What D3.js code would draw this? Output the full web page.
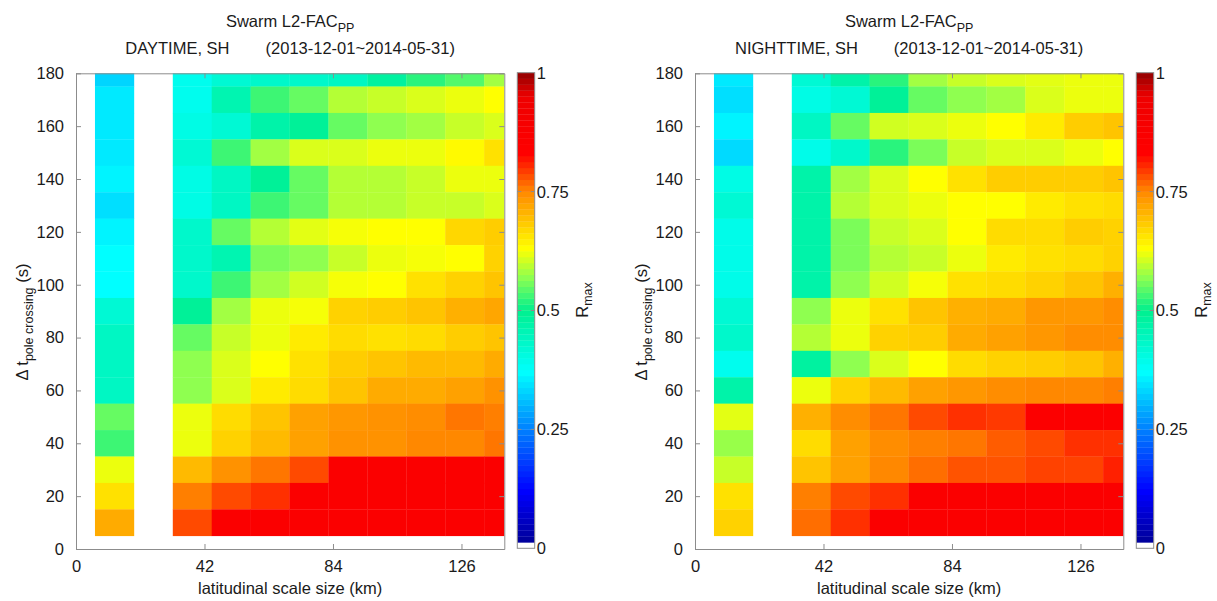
<!DOCTYPE html>
<html>
<head>
<meta charset="utf-8">
<script src="https://cdn.jsdelivr.net/npm/d3@7/dist/d3.min.js"></script>
<style>
  body { margin: 0; background: #fff; }
  text { font-family: "Liberation Sans", Arial, Helvetica, sans-serif; fill: #1a1a1a; }
</style>
</head>
<body>
<script>
'use strict';

// latitudinal scale size (km), bin centres
const scaleSizes = [12.56, 25.28, 38.0, 50.72, 63.44, 76.16, 88.88, 101.6, 114.32, 127.04, 139.76];
const binWidth = 12.72;
// pole crossing time difference (s), row centres, top to bottom
const poleTimes = [180, 170, 160, 150, 140, 130, 120, 110, 100, 90, 80, 70, 60, 50, 40, 30, 20, 10];
const rowHeight = 10;

// R_max, DAYTIME SH (rows follow poleTimes, null = no data)
const dayR = [
  [0.33, null, 0.39, 0.42, 0.43, 0.43, 0.44, 0.48, 0.52, 0.54, 0.58],
  [0.35, null, 0.39, 0.46, 0.53, 0.55, 0.59, 0.60, 0.61, 0.62, 0.63],
  [0.35, null, 0.40, 0.42, 0.47, 0.49, 0.55, 0.57, 0.58, 0.60, 0.61],
  [0.35, null, 0.42, 0.53, 0.58, 0.61, 0.61, 0.62, 0.62, 0.635, 0.66],
  [0.36, null, 0.40, 0.44, 0.49, 0.55, 0.59, 0.59, 0.60, 0.62, 0.62],
  [0.34, null, 0.40, 0.44, 0.53, 0.55, 0.59, 0.59, 0.60, 0.60, 0.61],
  [0.36, null, 0.43, 0.55, 0.59, 0.615, 0.625, 0.63, 0.63, 0.67, 0.68],
  [0.37, null, 0.43, 0.46, 0.56, 0.57, 0.60, 0.62, 0.625, 0.63, 0.675],
  [0.37, null, 0.43, 0.53, 0.58, 0.605, 0.625, 0.63, 0.66, 0.675, 0.69],
  [0.42, null, 0.49, 0.58, 0.62, 0.625, 0.675, 0.68, 0.69, 0.71, 0.72],
  [0.44, null, 0.55, 0.60, 0.62, 0.65, 0.665, 0.66, 0.665, 0.68, 0.69],
  [0.44, null, 0.57, 0.61, 0.63, 0.66, 0.68, 0.69, 0.70, 0.70, 0.715],
  [0.44, null, 0.57, 0.61, 0.65, 0.665, 0.69, 0.715, 0.715, 0.725, 0.74],
  [0.55, null, 0.62, 0.665, 0.69, 0.725, 0.735, 0.74, 0.745, 0.76, 0.755],
  [0.53, null, 0.62, 0.675, 0.70, 0.725, 0.74, 0.74, 0.75, 0.75, 0.76],
  [0.62, null, 0.70, 0.74, 0.76, 0.785, 0.86, 0.86, 0.86, 0.86, 0.86],
  [0.66, null, 0.755, 0.785, 0.80, 0.86, 0.86, 0.86, 0.86, 0.86, 0.86],
  [0.715, null, 0.785, 0.86, 0.86, 0.86, 0.86, 0.86, 0.86, 0.86, 0.86]
];

// R_max, NIGHTTIME SH
const nightR = [
  [0.35, null, 0.42, 0.47, 0.52, 0.58, 0.60, 0.61, 0.615, 0.62, 0.62],
  [0.34, null, 0.40, 0.42, 0.49, 0.55, 0.57, 0.58, 0.61, 0.62, 0.62],
  [0.36, null, 0.44, 0.55, 0.605, 0.61, 0.62, 0.63, 0.65, 0.68, 0.69],
  [0.335, null, 0.395, 0.43, 0.52, 0.56, 0.60, 0.61, 0.61, 0.62, 0.63],
  [0.40, null, 0.47, 0.58, 0.61, 0.63, 0.66, 0.68, 0.68, 0.68, 0.69],
  [0.42, null, 0.47, 0.59, 0.61, 0.62, 0.63, 0.63, 0.65, 0.66, 0.665],
  [0.395, null, 0.47, 0.56, 0.60, 0.61, 0.63, 0.665, 0.665, 0.68, 0.675],
  [0.395, null, 0.47, 0.56, 0.59, 0.60, 0.62, 0.65, 0.66, 0.665, 0.675],
  [0.395, null, 0.47, 0.57, 0.605, 0.625, 0.66, 0.665, 0.675, 0.69, 0.71],
  [0.42, null, 0.57, 0.62, 0.66, 0.69, 0.71, 0.715, 0.735, 0.735, 0.745],
  [0.43, null, 0.59, 0.62, 0.675, 0.68, 0.715, 0.725, 0.735, 0.745, 0.745],
  [0.39, null, 0.48, 0.57, 0.61, 0.63, 0.665, 0.675, 0.68, 0.69, 0.71],
  [0.47, null, 0.62, 0.675, 0.70, 0.725, 0.735, 0.745, 0.75, 0.75, 0.755],
  [0.615, null, 0.71, 0.745, 0.76, 0.785, 0.80, 0.795, 0.85, 0.85, 0.85],
  [0.575, null, 0.665, 0.725, 0.745, 0.755, 0.76, 0.775, 0.785, 0.80, 0.80],
  [0.60, null, 0.69, 0.725, 0.75, 0.765, 0.78, 0.78, 0.79, 0.79, 0.81],
  [0.66, null, 0.755, 0.785, 0.80, 0.86, 0.86, 0.86, 0.86, 0.86, 0.86],
  [0.675, null, 0.765, 0.80, 0.86, 0.86, 0.86, 0.86, 0.86, 0.86, 0.86]
];

const xTickVals = [0, 42, 84, 126];
const yTickVals = [0, 20, 40, 60, 80, 100, 120, 140, 160, 180];
const cbTickVals = [0, 0.25, 0.5, 0.75, 1];
const cbTickLabels = ["0", "0.25", "0.5", "0.75", "1"];

// jet-like colour map
const cmapStops = [0, 0.12, 0.25, 0.37, 0.5, 0.57, 0.63, 0.75, 0.8, 0.83, 0.95, 1];
const cmapColors = ["#00008c", "#0000ff", "#0080ff", "#00ffff", "#00f08f", "#8fff50", "#ffff00",
                    "#ff8800", "#ff3000", "#ff0000", "#ee0000", "#900000"];
const color = d3.scaleLinear().domain(cmapStops).range(cmapColors).interpolate(d3.interpolateRgb).clamp(true);

const svg = d3.select("body").append("svg")
  .attr("width", 1217).attr("height", 601);

const plotW = 428.3, plotTop = 73.3, plotBottom = 549;
const axisGray = "#8c8c8c";

function drawPanel(ox, mode, values, id) {
  const x = d3.scaleLinear().domain([0, 140]).range([ox, ox + plotW]);
  const y = d3.scaleLinear().domain([0, 180]).range([plotBottom, plotTop]);

  svg.append("clipPath").attr("id", "clip" + id)
    .append("rect").attr("x", ox).attr("y", plotTop).attr("width", plotW).attr("height", plotBottom - plotTop);

  const cells = [];
  values.forEach((row, i) => row.forEach((v, j) => {
    if (v !== null) cells.push({ t: poleTimes[i], s: scaleSizes[j], v: v });
  }));

  svg.append("g").attr("clip-path", "url(#clip" + id + ")")
    .selectAll("rect").data(cells).enter().append("rect")
    .attr("x", d => x(d.s - binWidth / 2))
    .attr("width", d => x(d.s + binWidth / 2) - x(d.s - binWidth / 2) + 0.3)
    .attr("y", d => y(d.t + rowHeight / 2))
    .attr("height", d => y(d.t - rowHeight / 2) - y(d.t + rowHeight / 2) + 0.3)
    .attr("fill", d => color(d.v));

  // axes, ticks inside on all four sides
  const ax = [
    d3.axisBottom(x).tickValues(xTickVals).tickSizeInner(-5).tickSizeOuter(0).tickPadding(11),
    d3.axisTop(x).tickValues(xTickVals).tickSizeInner(-5).tickSizeOuter(0).tickFormat(""),
    d3.axisLeft(y).tickValues(yTickVals).tickSizeInner(-5).tickSizeOuter(0).tickPadding(12),
    d3.axisRight(y).tickValues(yTickVals).tickSizeInner(-5).tickSizeOuter(0).tickFormat("")
  ];
  const pos = ["translate(0," + plotBottom + ")", "translate(0," + plotTop + ")",
               "translate(" + ox + ",0)", "translate(" + (ox + plotW) + ",0)"];
  ax.forEach((a, k) => {
    const g = svg.append("g").attr("transform", pos[k]).call(a);
    g.selectAll("path, line").attr("stroke", axisGray);
    g.selectAll("text").attr("font-size", 16.5).attr("fill", "#1a1a1a")
      .style("font-family", '"Liberation Sans", Arial, sans-serif');
  });

  // labels
  const cx = ox + plotW / 2;
  svg.append("text").attr("x", cx).attr("y", 594).attr("text-anchor", "middle")
    .attr("font-size", 16.5).text("latitudinal scale size (km)");

  const t1 = svg.append("text").attr("x", cx).attr("y", 27).attr("text-anchor", "middle").attr("font-size", 16.5);
  t1.append("tspan").text("Swarm L2-FAC");
  t1.append("tspan").attr("dy", 5).attr("font-size", 12.5).text("PP");

  const t2 = svg.append("text").attr("x", cx).attr("y", 54).attr("text-anchor", "middle").attr("font-size", 16.5);
  t2.append("tspan").text(mode);
  t2.append("tspan").attr("dx", 36).text("(2013-12-01~2014-05-31)");

  const yl = svg.append("text").attr("transform", "translate(" + (ox - 48) + ",322) rotate(-90)")
    .attr("text-anchor", "middle").attr("font-size", 16.5);
  yl.append("tspan").text("\u0394 t");
  yl.append("tspan").attr("dy", 5).attr("font-size", 12.5).text("pole crossing");
  yl.append("tspan").attr("dy", -5).text(" (s)");

  // colour bar
  const cbx = ox + 441.3, cbw = 17.4;
  const c = d3.scaleLinear().domain([0, 1]).range([plotBottom - 0.7, plotTop - 0.6]);
  const nLev = 80;
  const levels = d3.range(nLev).map(k => k / nLev);
  svg.append("g").selectAll("rect").data(levels).enter().append("rect")
    .attr("x", cbx).attr("width", cbw)
    .attr("y", d => c(d + 1 / nLev))
    .attr("height", d => c(d) - c(d + 1 / nLev) + 0.3)
    .attr("fill", d => d === 0 ? "#ffffff" : color(d + 0.5 / nLev));
  svg.append("rect").attr("x", cbx).attr("y", c(1)).attr("width", cbw).attr("height", c(0) - c(1))
    .attr("fill", "none").attr("stroke", axisGray);
  const cbTicks = cbTickVals.filter(v => v > 0 && v < 1);
  svg.append("g").selectAll("line").data(cbTicks).enter().append("line")
    .attr("x1", cbx).attr("x2", cbx + 4).attr("y1", d => c(d)).attr("y2", d => c(d))
    .attr("stroke", axisGray);
  svg.append("g").selectAll("line").data(cbTicks).enter().append("line")
    .attr("x1", cbx + cbw - 4).attr("x2", cbx + cbw).attr("y1", d => c(d)).attr("y2", d => c(d))
    .attr("stroke", axisGray);
  svg.append("g").selectAll("text").data(cbTickVals).enter().append("text")
    .attr("x", cbx + cbw + 2).attr("y", d => c(d)).attr("dy", "0.36em")
    .attr("font-size", 16.5).text((d, k) => cbTickLabels[k]);

  const rl = svg.append("text").attr("transform", "translate(" + (cbx + 71) + ",300) rotate(-90)")
    .attr("text-anchor", "middle").attr("font-size", 16.5);
  rl.append("tspan").text("R");
  rl.append("tspan").attr("dy", 4).attr("font-size", 12.5).text("max");
}

drawPanel(76, "DAYTIME, SH", dayR, 0);
drawPanel(695, "NIGHTTIME, SH", nightR, 1);
</script>
</body>
</html>
